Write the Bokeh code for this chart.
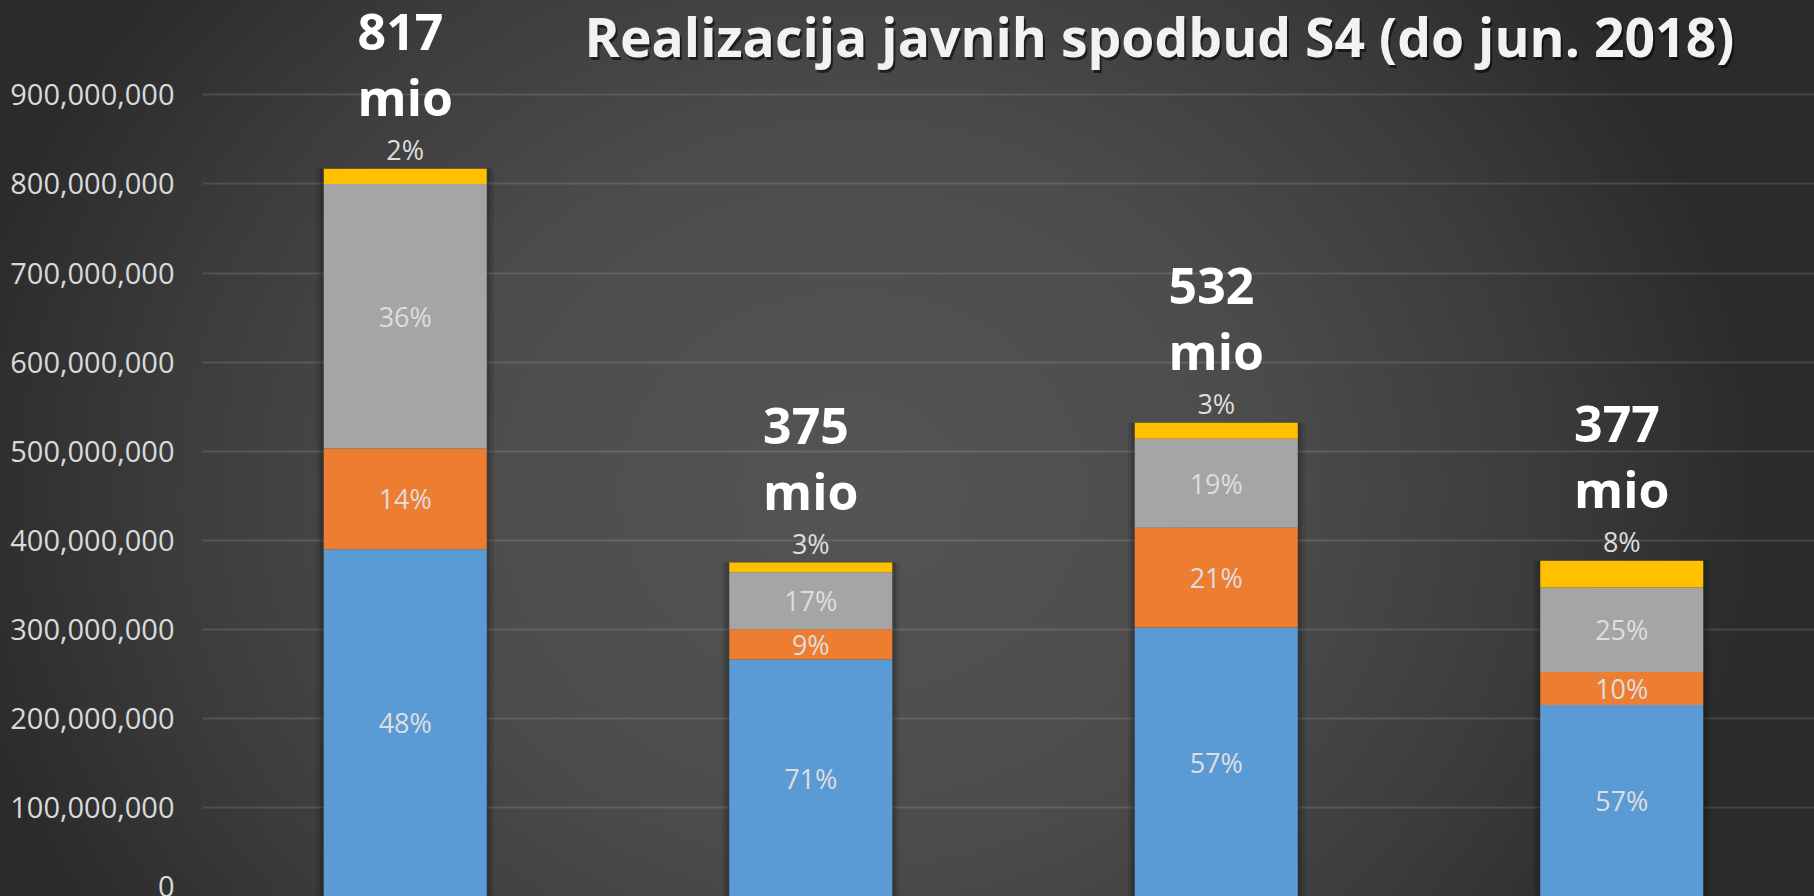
from bokeh.plotting import figure
from bokeh.models import ColumnDataSource, Range1d, FixedTicker, NumeralTickFormatter, LabelSet, Label
from bokeh.core.properties import value
from bokeh.embed import file_html
from bokeh.resources import INLINE

# ---------------- data ----------------
categories = ["1", "2", "3", "4"]
series_names = ["s1", "s2", "s3", "s4"]
blue = [390e6, 266e6, 302e6, 215e6]
orange = [113e6, 34e6, 112e6, 37e6]
gray = [297e6, 64e6, 100e6, 95e6]
yellow = [17e6, 11e6, 18e6, 30e6]
pct_blue = ["48%", "71%", "57%", "57%"]
pct_orange = ["14%", "9%", "21%", "10%"]
pct_gray = ["36%", "17%", "19%", "25%"]
pct_yellow = ["2%", "3%", "3%", "8%"]
tick_values = [0, 100e6, 200e6, 300e6, 400e6, 500e6, 600e6, 700e6, 800e6, 900e6]
title_text = "Realizacija javnih spodbud S4 (do jun. 2018)"

colors = ["#5b9bd5", "#ed7d31", "#a5a5a5", "#ffc000"]
FONT = "Open Sans"

# ---------------- derived ----------------
x = [i + 0.5 for i in range(len(categories))]
series = [blue, orange, gray, yellow]
totals = [sum(v) for v in zip(*series)]
total_labels = [f"{round(t / 1e6)}\nmio" for t in totals]

data = {"x": x}
for name, vals in zip(series_names, series):
    data[name] = vals
source = ColumnDataSource(data)

W, H = 1814, 896
p = figure(width=W, height=H, output_backend="svg", toolbar_location=None,
           x_range=Range1d(0, 3.9753), y_range=Range1d(0, 1006e6),
           min_border_left=202, min_border_right=0, min_border_top=0, min_border_bottom=0)

p.background_fill_alpha = 0
p.border_fill_alpha = 0
p.outline_line_color = None
p.styles = {
    "background-image": "radial-gradient(ellipse 50% 88% at 47% 55%, #545454 0%, #4c4c4c 45%, #3c3c3c 75%, #2b2b2b 100%)",
}

p.xaxis.visible = False
p.xgrid.visible = False
p.ygrid.grid_line_color = "#ffffff"
p.ygrid.grid_line_alpha = 0.12
p.ygrid.grid_line_width = 2

ax = p.yaxis[0]
ax.ticker = FixedTicker(ticks=tick_values)
ax.formatter = NumeralTickFormatter(format="0,0")
ax.axis_line_color = None
ax.major_tick_line_color = None
ax.minor_tick_line_color = None
ax.major_tick_out = 0
ax.major_tick_in = 0
ax.major_label_standoff = 28
ax.major_label_text_font = FONT
ax.major_label_text_font_size = "29px"
ax.major_label_text_color = "#d9d9d9"

BW = 0.402
# soft shadow behind each stacked bar
shadow_src = ColumnDataSource({"x": x, "top": totals})
p.vbar(x="x", top="top", bottom=0, width=BW + 0.035, source=shadow_src,
       fill_color="black", fill_alpha=0.10, line_color=None)
p.vbar(x="x", top="top", bottom=0, width=BW + 0.018, source=shadow_src,
       fill_color="black", fill_alpha=0.15, line_color=None)

p.vbar_stack(series_names, x="x", width=BW, color=colors, line_color=None, source=source)

# segment percentage labels (centered in segments)
lx, ly, lt = [], [], []
for i in range(len(categories)):
    base = 0
    for vals, pcts in zip(series[:3], [pct_blue, pct_orange, pct_gray]):
        lx.append(x[i]); ly.append(base + vals[i] / 2); lt.append(pcts[i])
        base += vals[i]
seg_src = ColumnDataSource({"x": lx, "y": ly, "t": lt})
p.add_layout(LabelSet(x="x", y="y", text="t", source=seg_src, text_align="center",
                      text_baseline="middle", text_font=value(FONT), text_font_size="27px",
                      text_color="#dedede"))

# top (yellow) segment labels, above bar top
ysrc = ColumnDataSource({"x": x, "y": totals, "t": pct_yellow})
p.add_layout(LabelSet(x="x", y="y", text="t", source=ysrc, y_offset=19, text_align="center",
                      text_baseline="middle", text_font=value(FONT), text_font_size="27px",
                      text_color="#dedede"))

# totals
tsrc = ColumnDataSource({"x": x, "y": totals, "t": total_labels})
p.add_layout(LabelSet(x="x", y="y", text="t", source=tsrc, y_offset=38, text_align="center",
                      text_baseline="bottom", text_font=value(FONT), text_font_style="bold",
                      text_font_size="50px", text_line_height=0.97, text_color="white"))

# title with shadow
tx, ty = 957, 860
p.add_layout(Label(x=tx + 2, y=ty - 3, x_units="screen", y_units="screen", text=title_text,
                   text_align="center", text_baseline="middle", text_font=FONT,
                   text_font_style="bold", text_font_size="53.5px", text_color="black", text_alpha=0.55))
p.add_layout(Label(x=tx, y=ty, x_units="screen", y_units="screen", text=title_text,
                   text_align="center", text_baseline="middle", text_font=FONT,
                   text_font_style="bold", text_font_size="53.5px", text_color="#f2f2f2"))

try:
    from bokeh.core.templates import get_env
    tmpl = get_env().from_string(
        "{% extends 'file.html' %}{% block postamble %}<style>html, body { background: #2b2b2b; }</style>{% endblock %}"
    )
    html = file_html(p, INLINE, title="Realizacija javnih spodbud S4", template=tmpl)
except Exception:
    html = file_html(p, INLINE, title="Realizacija javnih spodbud S4")
open("out.html", "w").write(html)
